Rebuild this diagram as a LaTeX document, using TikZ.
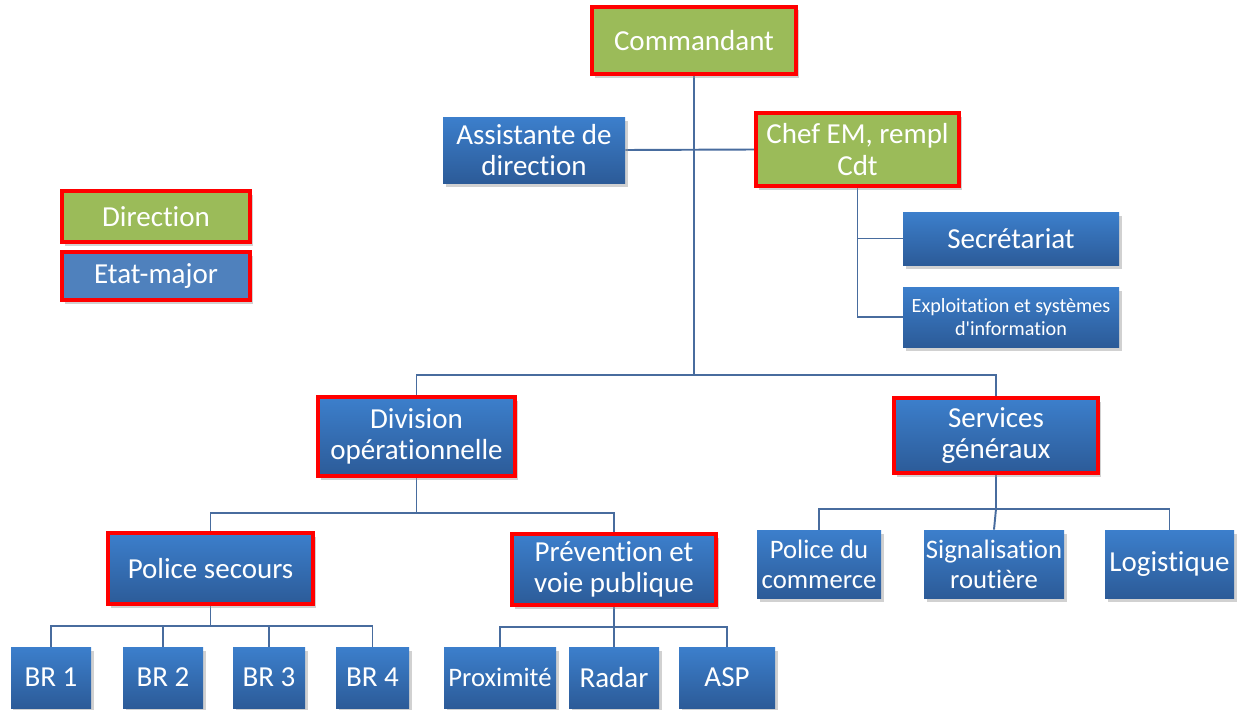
\documentclass[tikz,border=0pt]{standalone}
\usepackage{fontspec}
\setmainfont{Carlito}[Ligatures=NoCommon]
\usetikzlibrary{shadows, backgrounds}
\definecolor{dirgreen}{RGB}{155,187,89}
\definecolor{emblue}{RGB}{79,129,189}
\definecolor{bluetop}{RGB}{60,127,204}
\definecolor{bluebot}{RGB}{44,91,152}
\definecolor{linkblue}{RGB}{72,108,158}
\definecolor{mark}{RGB}{255,0,0}

\begin{document}
\begin{tikzpicture}[x=0.02cm, y=-0.02cm,
  sz/.style 2 args={minimum width=#1*0.02cm, minimum height=#2*0.02cm},
  unit/.style={rectangle, inner sep=1pt, align=center, text=white,
    font=\fontsize{16.5}{18}\selectfont,
    drop shadow={shadow xshift=0.05cm, shadow yshift=-0.07cm, fill=black!40, opacity=0.45}},
  bluebox/.style={unit, top color=bluetop, bottom color=bluebot},
  greenbox/.style={unit, fill=dirgreen},
  lead/.style={draw=mark, line width=2.2pt},
  link/.style={draw=linkblue, line width=1.1pt},
  small/.style={font=\fontsize{15.2}{17}\selectfont}]
\useasboundingbox (0,0) rectangle (1238,710);

% legend
\node[greenbox, lead, sz={188}{51}] (legdir) at (156,216.5) {Direction};
\node[unit, fill=emblue, lead, sz={188}{48}] (legem) at (156,276) {Etat-major};

% direction
\node[greenbox, lead, sz={204}{67}] (cmd) at (694,40.5) {Commandant};
\node[greenbox, lead, sz={203}{73}] (chef) at (857.5,149.5) {Chef EM, rempl\\Cdt};
\node[bluebox, sz={182}{66}] (asst) at (534,150) {Assistante de\\direction};
\node[bluebox, sz={216}{53}] (secr) at (1011,238.5) {Secrétariat};
\node[bluebox, sz={216}{60}, font=\fontsize{11.5}{13.5}\selectfont] (esi) at (1011,317) {Exploitation et systèmes\\d\textquotesingle information};

% divisions
\node[bluebox, lead, sz={197}{79}] (div) at (416.5,436.5) {Division\\opérationnelle};
\node[bluebox, lead, sz={204}{75}] (svc) at (996,435.5) {Services\\généraux};

\node[bluebox, lead, sz={205}{71}] (psec) at (210.5,568.5) {Police secours};
\node[bluebox, lead, sz={204}{71}] (prev) at (614,569.5) {Prévention et\\voie publique};

\node[bluebox, small, sz={124}{68}] (pcom) at (819,564) {Police du\\commerce};
\node[bluebox, small, sz={140}{68}] (sign) at (994,564) {Signalisation\\routière};
\node[bluebox, sz={129}{68}] (logi) at (1169.5,564) {Logistique};

% sections
\node[bluebox, sz={80}{61}] (br1) at (51,677.5) {BR 1};
\node[bluebox, sz={80}{61}] (br2) at (163,677.5) {BR 2};
\node[bluebox, sz={72}{61}] (br3) at (269,677.5) {BR 3};
\node[bluebox, sz={73}{61}] (br4) at (372.5,677.5) {BR 4};
\node[bluebox, small, sz={112}{61}] (prox) at (500,677.5) {Proximité};
\node[bluebox, sz={90}{61}] (radar) at (614,677.5) {Radar};
\node[bluebox, sz={96}{61}] (asp) at (727,677.5) {ASP};

% junctions
\coordinate (jmain) at (694,375);
\coordinate (jdiv) at (416.5,513);
\coordinate (jsvc) at (996,509);
\coordinate (jpsec) at (210.5,626);
\coordinate (jprev) at (614,627);

\begin{scope}[on background layer]
\draw[link] (asst.east) -- (chef.west);
\draw[link] (cmd.south) -- (jmain);
\draw[link] (div.north) |- (jmain) -| (svc.north);
\draw[link] (chef.south) |- (esi.west);
\draw[link] (chef.south |- secr.west) -- (secr.west);
\draw[link] (div.south) -- (jdiv);
\draw[link] (psec.north) |- (jdiv) -| (prev.north);
\draw[link] (svc.south) -- (jsvc);
\draw[link] (pcom.north) |- (jsvc) -| (logi.north);
\draw[link] (jsvc) -- (sign.north);
\draw[link] (psec.south) -- (jpsec);
\draw[link] (br1.north) |- (jpsec) -| (br4.north);
\draw[link] (br2.north) |- (jpsec) -| (br3.north);
\draw[link] (prev.south) -- (jprev);
\draw[link] (prox.north) |- (jprev) -| (asp.north);
\draw[link] (jprev) -- (radar.north);
\end{scope}
\end{tikzpicture}
\end{document}
